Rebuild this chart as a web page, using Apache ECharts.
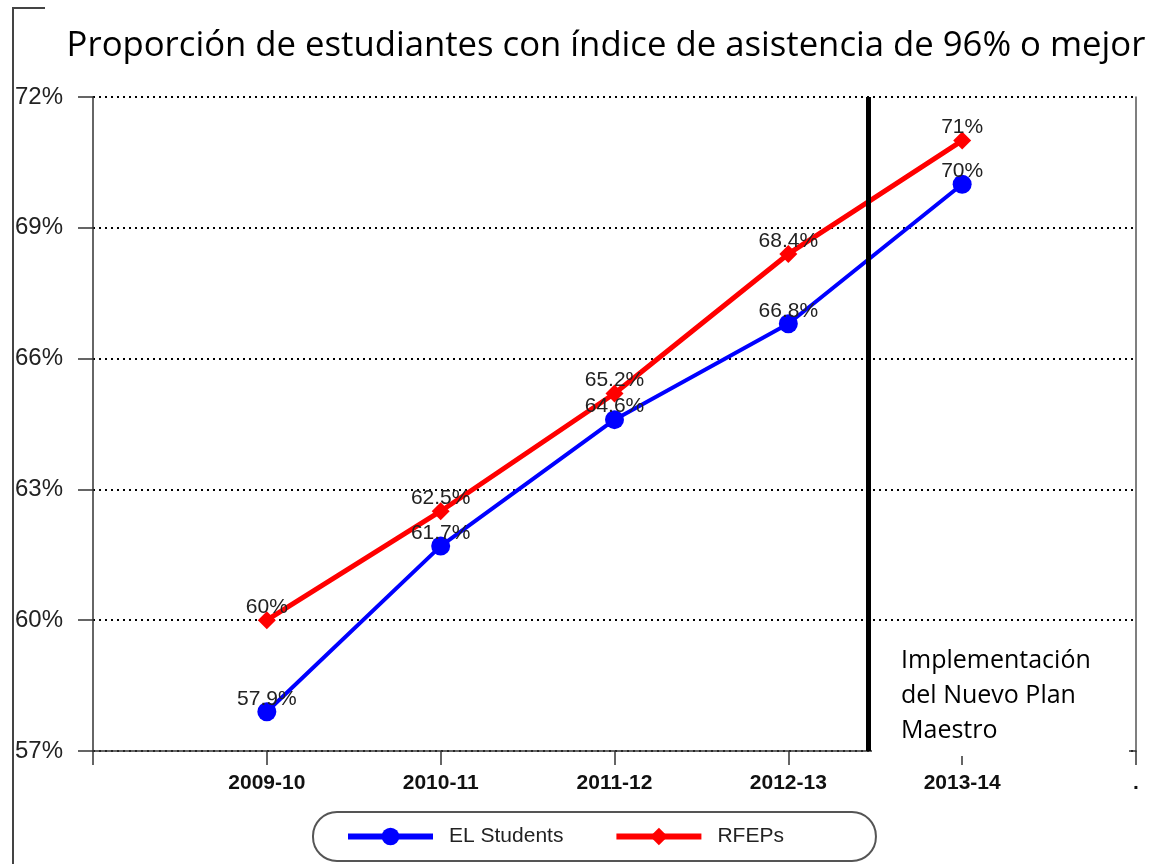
<!DOCTYPE html>
<html>
<head>
<meta charset="utf-8">
<script src="https://cdn.jsdelivr.net/npm/echarts@6/dist/echarts.min.js"></script>
<style>
  html, body { margin: 0; padding: 0; background: #fff; }
  #main { width: 1160px; height: 864px; }
</style>
</head>
<body>
<div id="main"></div>
<script>
// datos
const categories = ['', '2009-10', '2010-11', '2011-12', '2012-13', '2013-14', '.']
const elStudents = [null, 57.9, 61.7, 64.6, 66.8, 70, null]
const rfeps = [null, 60, 62.5, 65.2, 68.4, 71, null]
const yTicks = [57, 60, 63, 66, 69, 72]
// posición de la línea "Implementación del Nuevo Plan Maestro" (en índices de categoría)
const planMarker = 4.46

const chart = echarts.init(document.getElementById('main'))

const labelStyle = {
  show: true,
  position: 'inside',
  offset: [0, -13],
  fontFamily: 'Liberation Sans',
  fontSize: 21,
  color: '#222',
  formatter: p => p.value + '%'
}

const option = {
  animation: false,
  title: {
    text: 'Proporción de estudiantes con índice de asistencia de 96% o mejor',
    left: 601,
    textAlign: 'center',
    top: 24,
    textStyle: { fontFamily: 'Open Sans', fontWeight: 'normal', fontSize: 34.7, color: '#000' }
  },
  legend: {
    data: ['EL Students', 'RFEPs'],
    left: 313,
    top: 812,
    padding: [14, 92, 14, 32],
    itemWidth: 85,
    itemHeight: 22,
    itemGap: 50,
    borderColor: '#555',
    borderWidth: 2,
    borderRadius: 24,
    lineStyle: { width: 6 },
    textStyle: { fontFamily: 'Liberation Sans', fontSize: 21, color: '#222', padding: [0, 0, 0, 11] }
  },
  grid: { left: 93, right: 24, top: 97, bottom: 113 },
  xAxis: [
    {
      type: 'category',
      data: categories,
      boundaryGap: false,
      axisLine: { lineStyle: { color: '#333', width: 1.5 } },
      axisTick: { length: 14, lineStyle: { color: '#333', width: 1.5 } },
      axisLabel: {
        margin: 22,
        fontFamily: 'Liberation Sans',
        fontWeight: 'bold',
        fontSize: 21,
        color: '#111',
        interval: 0
      }
    },
    { type: 'value', min: 0, max: categories.length - 1, show: false }
  ],
  yAxis: [
    {
      type: 'value',
      min: yTicks[0],
      max: yTicks[yTicks.length - 1],
      interval: 3,
      axisLine: { show: true, lineStyle: { color: '#333', width: 1.5 } },
      axisTick: { show: true, length: 15, lineStyle: { color: '#333', width: 1.5 } },
      axisLabel: {
        margin: 30,
        fontFamily: 'Liberation Sans',
        fontSize: 24,
        color: '#222',
        formatter: '{value}%'
      },
      splitLine: { show: true, lineStyle: { color: '#000', width: 2, type: [2, 4] } }
    },
    {
      type: 'value',
      position: 'right',
      min: yTicks[0],
      max: yTicks[yTicks.length - 1],
      axisLine: { show: true, lineStyle: { color: '#555', width: 1.5 } },
      axisTick: { show: false },
      axisLabel: { show: false },
      splitLine: { show: false }
    }
  ],
  series: [
    {
      name: 'EL Students',
      type: 'line',
      data: elStudents,
      symbol: 'circle',
      symbolSize: 19,
      itemStyle: { color: '#0000ff' },
      lineStyle: { color: '#0000ff', width: 4 },
      label: labelStyle,
      z: 3
    },
    {
      name: 'RFEPs',
      type: 'line',
      data: rfeps,
      symbol: 'diamond',
      symbolSize: 18,
      itemStyle: { color: '#ff0000' },
      lineStyle: { color: '#ff0000', width: 5 },
      label: labelStyle,
      z: 2
    },
    {
      name: 'plan',
      type: 'line',
      xAxisIndex: 1,
      data: [],
      silent: true,
      markLine: {
        symbol: 'none',
        silent: true,
        label: { show: false },
        lineStyle: { color: '#000', width: 5, type: 'solid' },
        data: [{ xAxis: planMarker }]
      },
      z: 4
    }
  ],
  graphic: [
    {
      type: 'polyline',
      shape: { points: [[45, 8], [13, 8], [13, 864]] },
      style: { stroke: '#444', lineWidth: 2, fill: null }
    },
    {
      // hueco en el eje x después de la línea del plan
      type: 'rect',
      z: 100,
      shape: { x: 872, y: 749, width: 257, height: 7 },
      style: { fill: '#fff' }
    },
    {
      type: 'text',
      left: 901,
      top: 643,
      style: {
        text: 'Implementación\ndel Nuevo Plan\nMaestro',
        fontFamily: 'Open Sans',
        fontSize: 25,
        lineHeight: 35,
        fill: '#000'
      }
    }
  ]
}

chart.setOption(option)
window.onresize = function () {
  chart.resize()
}
</script>
</body>
</html>
